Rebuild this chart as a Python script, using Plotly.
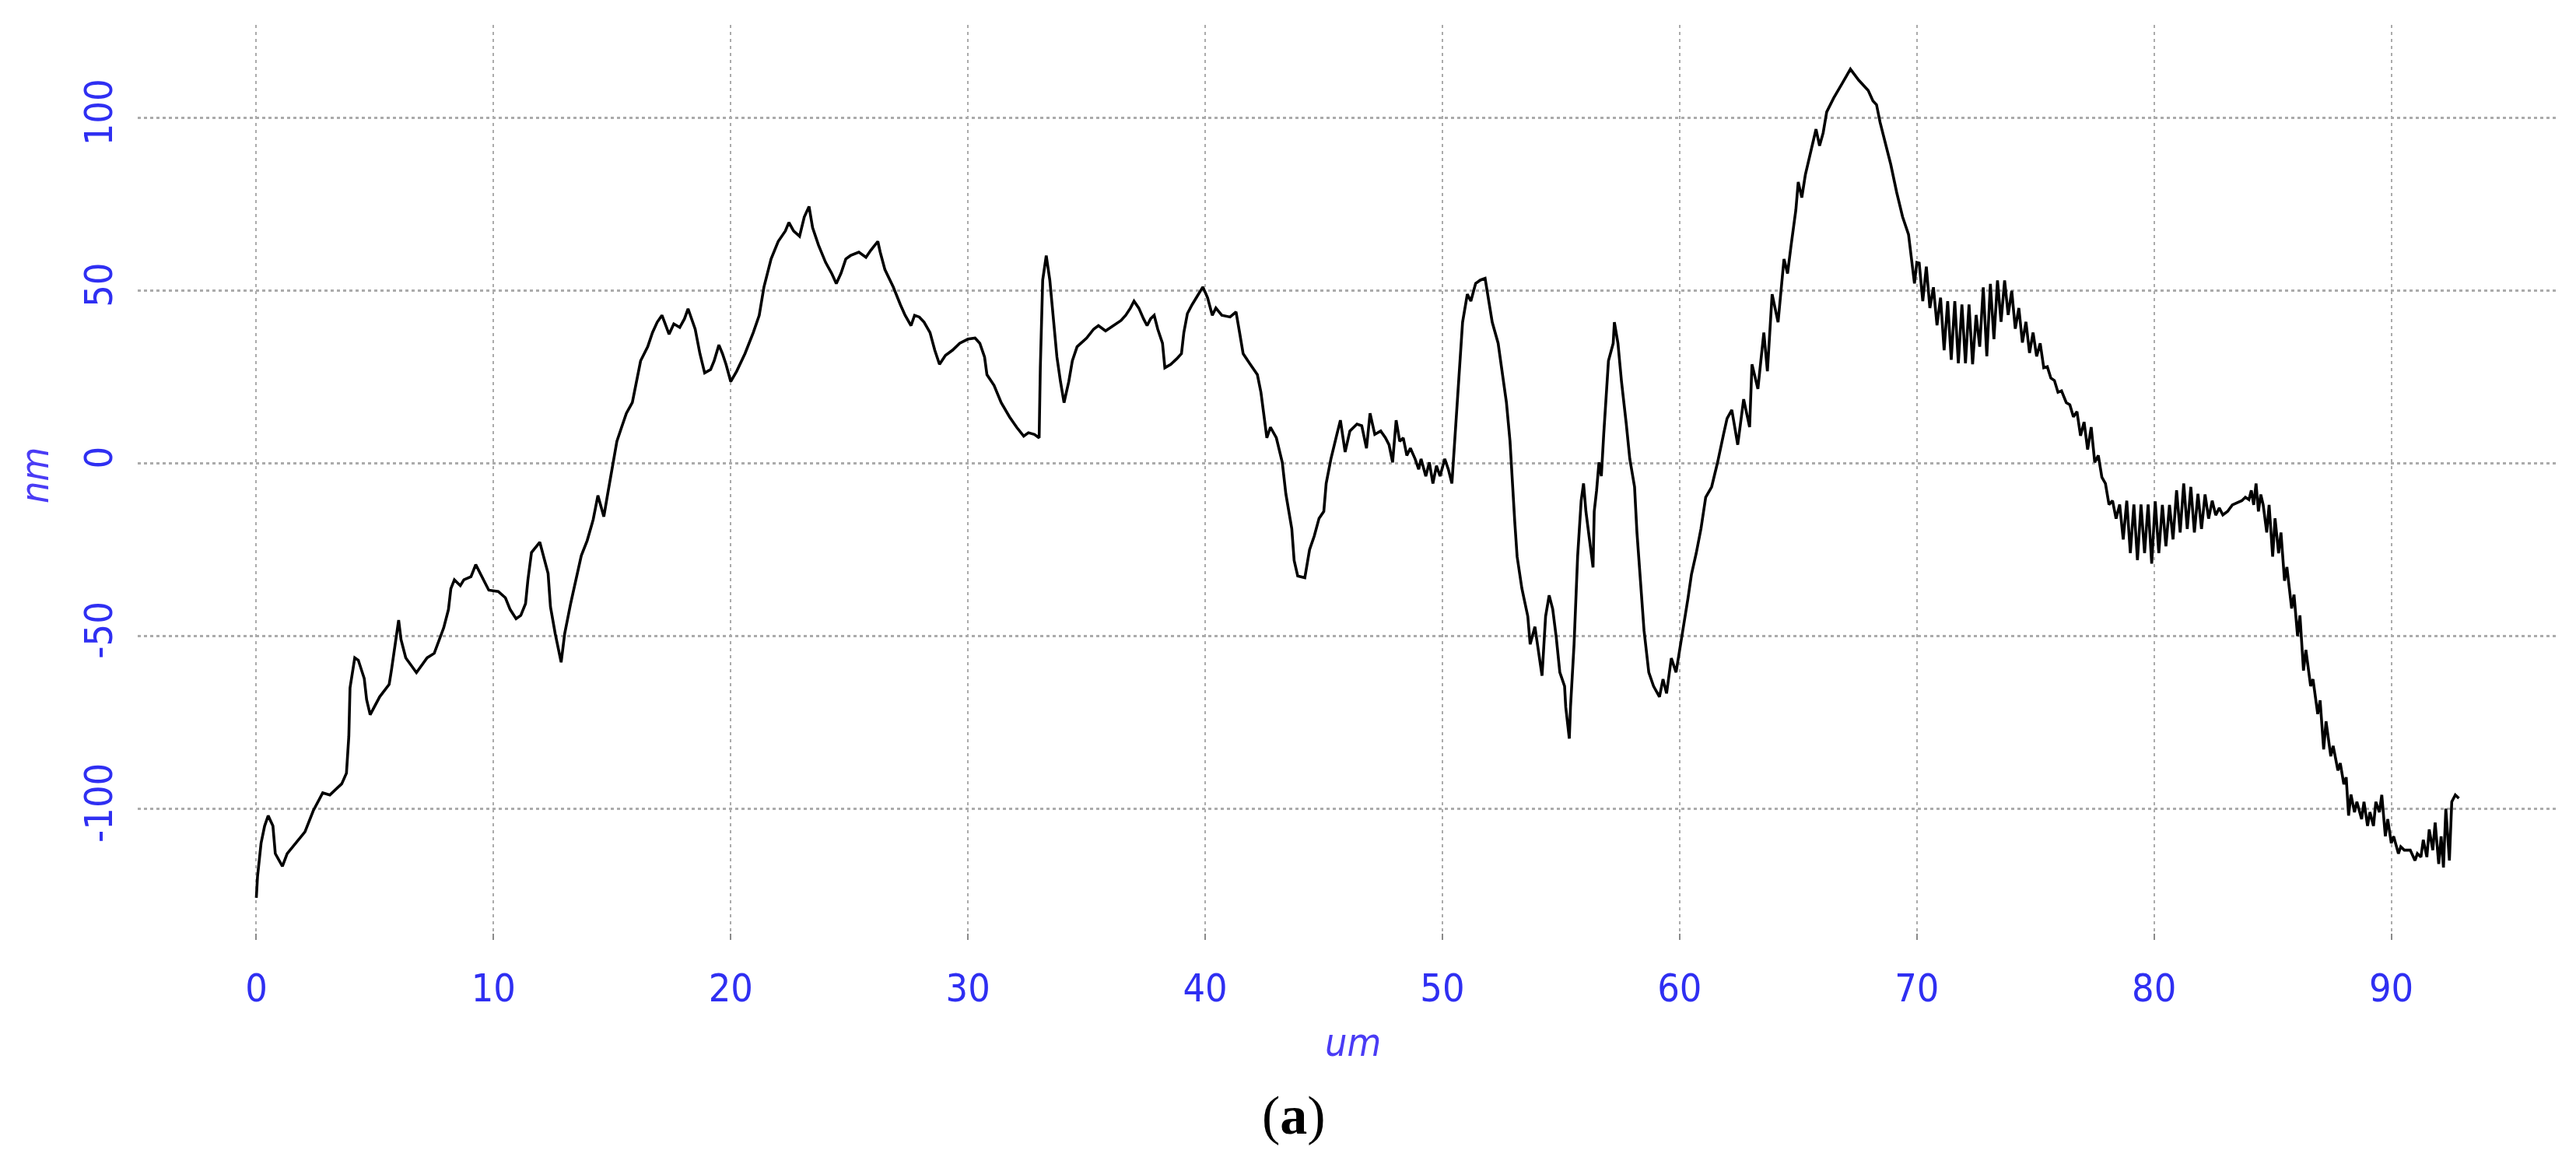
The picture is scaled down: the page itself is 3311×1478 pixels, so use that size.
import plotly.graph_objects as go

# Profile samples (x in um, height in nm)
x_seg_a = [0, 0.05, 0.2, 0.35, 0.5, 0.7, 0.8, 1.1, 1.3, 2.05, 2.4, 2.8, 3.1, 3.6, 3.8, 3.9, 3.95, 4.15, 4.3, 4.55,
           4.65, 4.8, 5.2, 5.6, 5.7, 5.9, 6.0, 6.1, 6.3, 6.75, 7.2, 7.5, 7.7, 7.9, 8.1, 8.2, 8.35, 8.6, 8.75, 9.05,
           9.25, 9.5, 9.8, 10.2, 10.5, 10.7, 10.95, 11.15, 11.35, 11.45, 11.6, 11.95, 12.15, 12.3, 12.4, 12.6, 12.85,
           13.0, 13.25, 13.45, 13.7, 13.95, 14.2, 14.4, 14.65, 14.8, 15.0]
y_seg_a = [-125.8, -119.7, -110, -105, -102, -105, -113, -116.7, -113, -106.7, -100.6, -95.4, -96, -92.8, -89.7,
           -79, -65, -56.3, -57, -62.3, -68.4, -72.8, -67.6, -64, -59.7, -50.2, -45.4, -51, -56.3, -60.6, -56.3, -55,
           -51, -47.6, -42.3, -36.3, -33.7, -35.4, -33.7, -32.8, -29.3, -32.8, -36.7, -37.1, -38.9, -42.3, -45, -44,
           -40.6, -33.7, -25.8, -22.8, -27.6, -31.9, -41.5, -49.3, -57.6, -49.3, -40.6, -34.5, -26.7, -22.3, -16.3,
           -9.3, -15.4, -9.3, -2]

x_seg_b = [15.2, 15.4, 15.6, 15.85, 16.05, 16.2, 16.5, 16.7, 16.9, 17.1, 17.4, 17.6, 17.85, 18.05, 18.2, 18.5, 18.7,
           18.9, 19.15, 19.3, 19.5, 19.65, 19.8, 20.0, 20.25, 20.6, 20.95, 21.2, 21.4, 21.7, 22.0, 22.3, 22.45, 22.65,
           22.9, 23.1, 23.3, 23.45, 23.7, 24.0, 24.25, 24.45, 24.65, 24.85, 25.05, 25.4, 25.7, 25.9, 26.2, 26.3, 26.5,
           26.85, 27.15, 27.35, 27.6, 27.75, 27.95, 28.15, 28.4, 28.6, 28.8, 29.05, 29.35, 29.65, 30.0]
y_seg_b = [6.4, 10.5, 14.5, 17.6, 24.7, 29.7, 33.8, 37.9, 40.9, 42.9, 37.4, 40.4, 39.4, 41.9, 44.8, 38.9, 31.8, 26.2,
           27.2, 29.7, 34.3, 31.8, 28.7, 23.7, 26.7, 31.8, 37.9, 42.9, 51.1, 59.2, 64.3, 67.3, 69.8, 67.3, 65.8, 71.4,
           74.4, 68.3, 63.2, 58.2, 55.1, 52.1, 55.1, 59.2, 60.2, 61.2, 59.7, 61.7, 64.3, 61.2, 56.1, 51.1, 46, 42.9,
           39.9, 42.9, 42.4, 40.9, 37.9, 32.8, 28.7, 31.3, 32.8, 34.8, 36]

x_seg_c = [30.3, 30.5, 30.7, 30.8, 31.1, 31.4, 31.75, 32.05, 32.35, 32.55, 32.8, 33.0, 33.05, 33.15, 33.3, 33.45,
           33.6, 33.75, 33.9, 34.05, 34.25, 34.4, 34.6, 35.0, 35.3, 35.5, 35.8, 36.1, 36.45, 36.65, 36.85, 37.0, 37.2,
           37.4, 37.55, 37.7, 37.85, 38.0, 38.2, 38.3, 38.55, 38.8, 39.0, 39.1, 39.25, 39.45, 39.7, 39.9, 40.1, 40.3,
           40.45, 40.7, 41.05, 41.3, 41.45, 41.6, 41.9, 42.2, 42.35, 42.5, 42.6, 42.75, 43.0, 43.25, 43.4]
y_seg_c = [36.3, 34.8, 30.8, 25.7, 22.6, 17.6, 13.5, 10.5, 7.9, 8.9, 8.4, 7.4, 27.7, 53.1, 60.2, 53.1, 42.9, 30.8,
           23.7, 17.6, 23.7, 29.7, 33.8, 36.3, 38.9, 39.9, 38.4, 39.9, 41.4, 42.9, 45, 47, 45, 41.9, 39.9, 41.9, 42.9,
           38.9, 34.8, 27.7, 28.7, 30.3, 31.8, 37.9, 43.4, 46, 49, 51.1, 48, 42.9, 45, 42.9, 42.4, 43.9, 37.9, 31.8,
           28.7, 25.7, 20.6, 12.5, 7.4, 10.5, 7.4, 0.3, -8.8]

x_seg_d = [43.65, 43.75, 43.9, 44.2, 44.4, 44.6, 44.8, 45.0, 45.1, 45.3, 45.55, 45.7, 45.9, 46.1, 46.4, 46.6, 46.8,
           46.95, 47.15, 47.4, 47.6, 47.75, 47.9, 48.05, 48.2, 48.35, 48.5, 48.65, 48.85, 49.0, 49.1, 49.3, 49.45,
           49.6, 49.75, 49.9, 50.1, 50.25, 50.4, 50.5, 50.65]
y_seg_d = [-18.9, -28.1, -32.6, -33.1, -25, -21, -15.9, -13.9, -5.8, 1.3, 8.4, 12.5, 3.3, 9.4, 11.4, 10.9, 4.4,
           14.5, 8.4, 9.4, 7.4, 5.4, 0.3, 12.5, 6.4, 7.4, 2.3, 4.4, 1.3, -1.7, 1.3, -3.7, 0.3, -5.8, -0.7, -3.7, 1.3,
           -1.7, -5.8, 4.4, 17.5]

x_seg_e = [50.75, 50.85, 51.05, 51.2, 51.4, 51.6, 51.8, 51.9, 52.1, 52.35, 52.55, 52.7, 52.85, 52.95, 53.05, 53.15,
           53.35, 53.6, 53.7, 53.9, 54.1, 54.2, 54.35, 54.5, 54.65, 54.8, 54.95, 55.15, 55.2, 55.35, 55.4, 55.55,
           55.7, 55.85, 55.95, 56.05, 56.2, 56.35, 56.4, 56.5, 56.6, 56.7, 56.8, 57.0, 57.2, 57.25, 57.4, 57.55,
           57.75, 57.9, 58.1, 58.2, 58.35, 58.5, 58.7, 58.9, 59.15, 59.3, 59.45, 59.65, 59.85, 60.0, 60.15, 60.35,
           60.5, 60.7, 60.9, 61.1, 61.35, 61.6]
y_seg_e = [27.7, 40.9, 49, 47, 52.1, 53.1, 53.6, 49, 40.9, 34.8, 24.7, 17.6, 6.4, -6.8, -16.9, -27, -36.2, -44.3,
           -52.4, -47.3, -56.4, -61.5, -44.3, -38.2, -42.2, -50.4, -60.5, -64.5, -70.6, -79.7, -70.6, -52.4, -27,
           -10.8, -5.8, -13.9, -22, -30.1, -13.9, -7.8, 0.3, -3.7, 8.4, 29.7, 34.8, 40.9, 34.8, 23.7, 11.5, 1.3,
           -6.8, -19.9, -34.1, -48.4, -60.5, -64.5, -67.6, -62.5, -66.6, -56.4, -60.5, -54.4, -47.3, -39.2, -32.1,
           -26, -18.9, -9.8, -6.8, 0.3]

x_seg_f = [61.85, 62.0, 62.2, 62.45, 62.7, 62.95, 63.05, 63.3, 63.55, 63.7, 63.9, 64.15, 64.4, 64.55, 64.7, 64.9,
           65.0, 65.15, 65.3, 65.45, 65.6, 65.75, 65.9, 66.05, 66.2, 66.5, 66.85, 67.2, 67.55, 67.95, 68.15, 68.3,
           68.45, 68.65, 68.9, 69.15, 69.4, 69.65, 69.75, 69.9, 70.0]
y_seg_f = [8.4, 13, 15.5, 5.4, 18.6, 10.5, 28.7, 21.6, 37.9, 26.7, 49, 40.9, 59.2, 55, 63.2, 73.4, 81.5, 77, 83.6,
           88, 91.7, 96.8, 92, 95.7, 101.8, 105.9, 110, 114.2, 111, 108, 105, 103.9, 98.8, 93.7, 86.6, 78.5, 71.4,
           66.3, 61.2, 52.1, 58.2]

x_seg_g = [70.1, 70.25, 70.4, 70.55, 70.7, 70.85, 71.0, 71.15, 71.3, 71.45, 71.6, 71.75, 71.9, 72.05, 72.2, 72.35,
           72.5, 72.65, 72.8, 72.95, 73.1, 73.25, 73.4, 73.55, 73.7, 73.85, 74.0, 74.15, 74.3, 74.45, 74.6, 74.75,
           74.9, 75.05, 75.2, 75.35, 75.5, 75.65, 75.8, 75.95, 76.1, 76.3, 76.45, 76.6, 76.75, 76.9, 77.05, 77.2,
           77.35, 77.5, 77.65, 77.8, 77.95, 78.1, 78.25, 78.4, 78.55, 78.7, 78.85, 79.0, 79.15, 79.3, 79.45, 79.6,
           79.75, 79.9, 80.05, 80.2, 80.35, 80.5, 80.65, 80.8, 80.95, 81.1, 81.25, 81.4, 81.55, 81.7, 81.85, 82.0,
           82.15, 82.3, 82.45, 82.6, 82.75, 82.9, 83.1, 83.3, 83.5, 83.7, 83.85, 84.0, 84.1, 84.2, 84.3, 84.4, 84.5,
           84.6, 84.75, 84.85, 85.0, 85.1, 85.25, 85.35, 85.5, 85.6, 85.8, 85.9, 86.05, 86.15, 86.3, 86.4, 86.6,
           86.7, 86.9, 87.0, 87.15, 87.25, 87.45, 87.55, 87.75, 87.85, 88.0, 88.1, 88.2, 88.3, 88.45, 88.55, 88.75,
           88.85, 89.0, 89.1, 89.25, 89.35, 89.5, 89.6, 89.75, 89.85, 90.0, 90.1, 90.3, 90.4, 90.55, 90.8, 91.0,
           91.1, 91.25, 91.35, 91.5, 91.6, 91.75, 91.85, 92.0, 92.1, 92.2, 92.3, 92.45, 92.55, 92.7, 92.85]
y_seg_g = [58, 47, 57, 45, 51, 40, 48, 32.8, 47, 30, 47, 29, 46, 29, 46, 28.7, 43, 33.8, 51, 31, 52, 36, 53, 41,
           53, 43, 50, 39, 45, 35, 41, 32, 37.9, 31, 34.8, 27.7, 28, 24.7, 24, 20.6, 21, 17.6, 17, 13.5, 15, 8, 12,
           4, 10.5, 0.3, 2.3, -4, -5.8, -11.9, -10.8, -16, -11.9, -22, -10.8, -26, -11.9, -28, -11.9, -26, -11.9,
           -29, -11, -26, -12, -24, -12, -22, -7.8, -20, -5.8, -19, -6.8, -20, -8.8, -19, -9, -16, -10.8, -15, -12.9,
           -14.9, -13.9, -12, -11.5, -10.8, -9.8, -10.5, -7.8, -12, -5.8, -13.9, -9, -12, -20, -12, -27, -15.9, -26,
           -20, -34, -30, -42, -38, -50, -44, -60, -54, -64.5, -62.5, -72.6, -68.6, -82.8, -74.7, -84.8, -81.8,
           -88.9, -86.8, -92.9, -90.9, -102, -95.9, -101, -98, -103, -98, -105, -101, -105, -98, -101, -96, -108,
           -103, -110, -108, -113, -111, -112, -112, -115, -113, -114, -109, -114, -106, -112, -104, -116, -108,
           -117, -100, -115, -98, -96, -97]

x_um = x_seg_a + x_seg_b + x_seg_c + x_seg_d + x_seg_e + x_seg_f + x_seg_g
z_nm = y_seg_a + y_seg_b + y_seg_c + y_seg_d + y_seg_e + y_seg_f + y_seg_g

x_ticks = [0, 10, 20, 30, 40, 50, 60, 70, 80, 90]
y_ticks = [-100, -50, 0, 50, 100]

BLUE = "#2f2ff2"
TICK_FONT = "Liberation Sans Narrow, DejaVu Sans Condensed, Arial Narrow, sans-serif"

fig = go.Figure()
fig.add_trace(go.Scatter(x=x_um, y=z_nm, mode="lines",
                         line=dict(color="black", width=3.6), showlegend=False, hoverinfo="skip"))

fig.update_layout(
    width=3311, height=1478,
    margin=dict(l=169, r=32, t=24, b=278),
    paper_bgcolor="white", plot_bgcolor="white",
    xaxis=dict(range=[-5, 97], tickvals=x_ticks, ticktext=[str(v) for v in x_ticks],
               showgrid=True, gridcolor="#ababab", gridwidth=2, griddash="4px,5px",
               zeroline=False, showline=False, ticks="inside", ticklen=8, tickwidth=2,
               tickcolor="#8a8a8a", tickfont=dict(family=TICK_FONT, size=50, color=BLUE),
               ticklabelstandoff=28),
    yaxis=dict(range=[-138, 127], tickvals=y_ticks, ticktext=[str(v) for v in y_ticks],
               showgrid=True, gridcolor="#ababab", gridwidth=3, griddash="4px,4px",
               zeroline=False, showline=False, ticks="", tickangle=-90,
               tickfont=dict(family=TICK_FONT, size=50, color=BLUE),
               ticklabelstandoff=22),
    annotations=[
        dict(text="<i>um</i>", xref="paper", yref="paper", x=0.5022, y=-0.1122,
             xanchor="center", yanchor="middle", showarrow=False,
             font=dict(family=TICK_FONT, size=50, color="#4a3cf5")),
        dict(text="<i>nm</i>", xref="paper", yref="paper", x=-0.0424, y=0.5077,
             xanchor="center", yanchor="middle", showarrow=False, textangle=-90,
             font=dict(family=TICK_FONT, size=50, color="#4a3cf5")),
        dict(text="(<b>a</b>)", xref="paper", yref="paper", x=0.4778, y=-0.192,
             xanchor="center", yanchor="middle", showarrow=False,
             font=dict(family="Liberation Serif, Times New Roman, serif", size=70, color="black")),
    ],
)

fig.write_html("out.html")
